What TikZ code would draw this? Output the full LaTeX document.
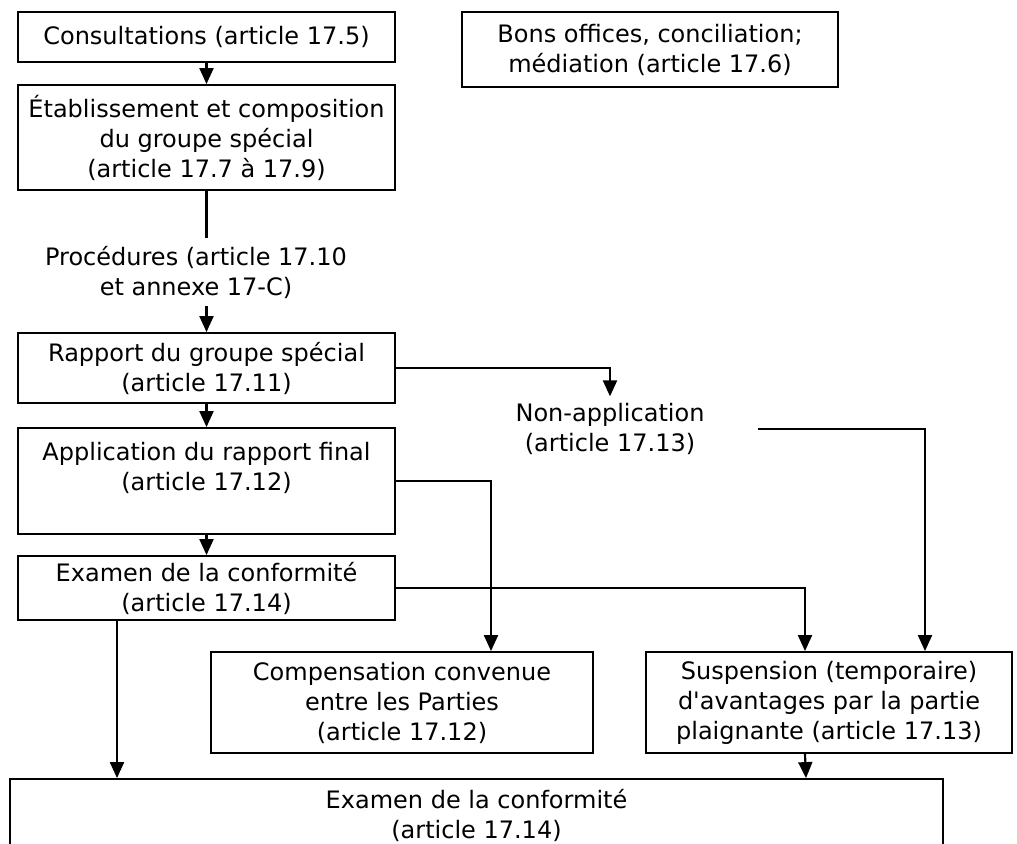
\documentclass[tikz,border=0pt]{standalone}
\usepackage{fontspec}
\setmainfont{DejaVu Sans}
\usetikzlibrary{arrows.meta,calc}

\begin{document}
\begin{tikzpicture}[x=0.75pt,y=-0.75pt,
    font=\fontsize{18}{22.5}\selectfont,
    box/.style={draw,line width=1.4pt,align=center,inner sep=0pt},
    arr/.style={line width=1.6pt,-{Triangle[length=12pt,width=10.5pt]}}]
        \useasboundingbox (0,0) rectangle (1017,843);

        \node[box,minimum width=282.75pt,minimum height=37.5pt] (consult) at (206.5,37){Consultations (article 17.5)};
        \node[box,minimum width=282pt,minimum height=56.25pt] (bons) at (650,49.5){Bons offices, conciliation;\\médiation (article 17.6)};
        \node[box,minimum width=282.75pt,minimum height=78.75pt] (groupe) at (206.5,137.5){Établissement et composition\\du groupe spécial\\(article 17.7 à 17.9)};
        \node[align=center,inner sep=6pt] (proc) at (196,272){Procédures (article 17.10\\et annexe 17-C)};
        \node[box,minimum width=282.75pt,minimum height=52.5pt] (rapport) at (206.5,368){Rapport du groupe spécial\\(article 17.11)};
        \node[align=center,inner sep=5pt] (nonapp) at (610,429){Non-application\\(article 17.13)};
        \node[box,minimum width=282.75pt,minimum height=79.5pt] (appl) at (206.5,481){Application du rapport final\\(article 17.12)\\\mbox{}};
        \node[box,minimum width=282.75pt,minimum height=48pt] (exam) at (206.5,588){Examen de la conformité\\(article 17.14)};
        \node[box,minimum width=286.5pt,minimum height=75.75pt] (comp) at (402,702.5){Compensation convenue\\entre les Parties\\(article 17.12)};
        \node[box,minimum width=274.5pt,minimum height=75.75pt] (susp) at (829,702.5){Suspension (temporaire)\\d\textquotesingle avantages par la partie\\plaignante (article 17.13)};
        \node[box,minimum width=699.75pt,minimum height=54pt] (examfin) at (476.5,815){Examen de la conformité\\(article 17.14)};
        \coordinate (nafrom) at (758,429);

        \draw[arr] (consult) -- (groupe);
        \draw[line width=1.6pt] (groupe) -- (groupe |- proc.north);
        \draw[arr] (rapport |- proc.south) -- (rapport);
        \draw[arr] (rapport) -| (nonapp);
        \draw[arr] (rapport) -- (appl);
        \draw[arr] (appl) -- (exam);
        \draw[arr] (appl) -| ($(comp.north)+(89,0)$);
        \draw[arr] (exam) -| ($(susp.north)+(-24,0)$);
        \draw[arr] (nafrom) -| ($(susp.north)+(96,0)$);
        \draw[arr] ($(exam.south)+(-89.5,0)$) -- ($(examfin.north)+(-359.5,0)$);
        \draw[arr] ($(susp.south)+(-24,0)$) -- ($(examfin.north)+(329.5,0)$);
\end{tikzpicture}
\end{document}
